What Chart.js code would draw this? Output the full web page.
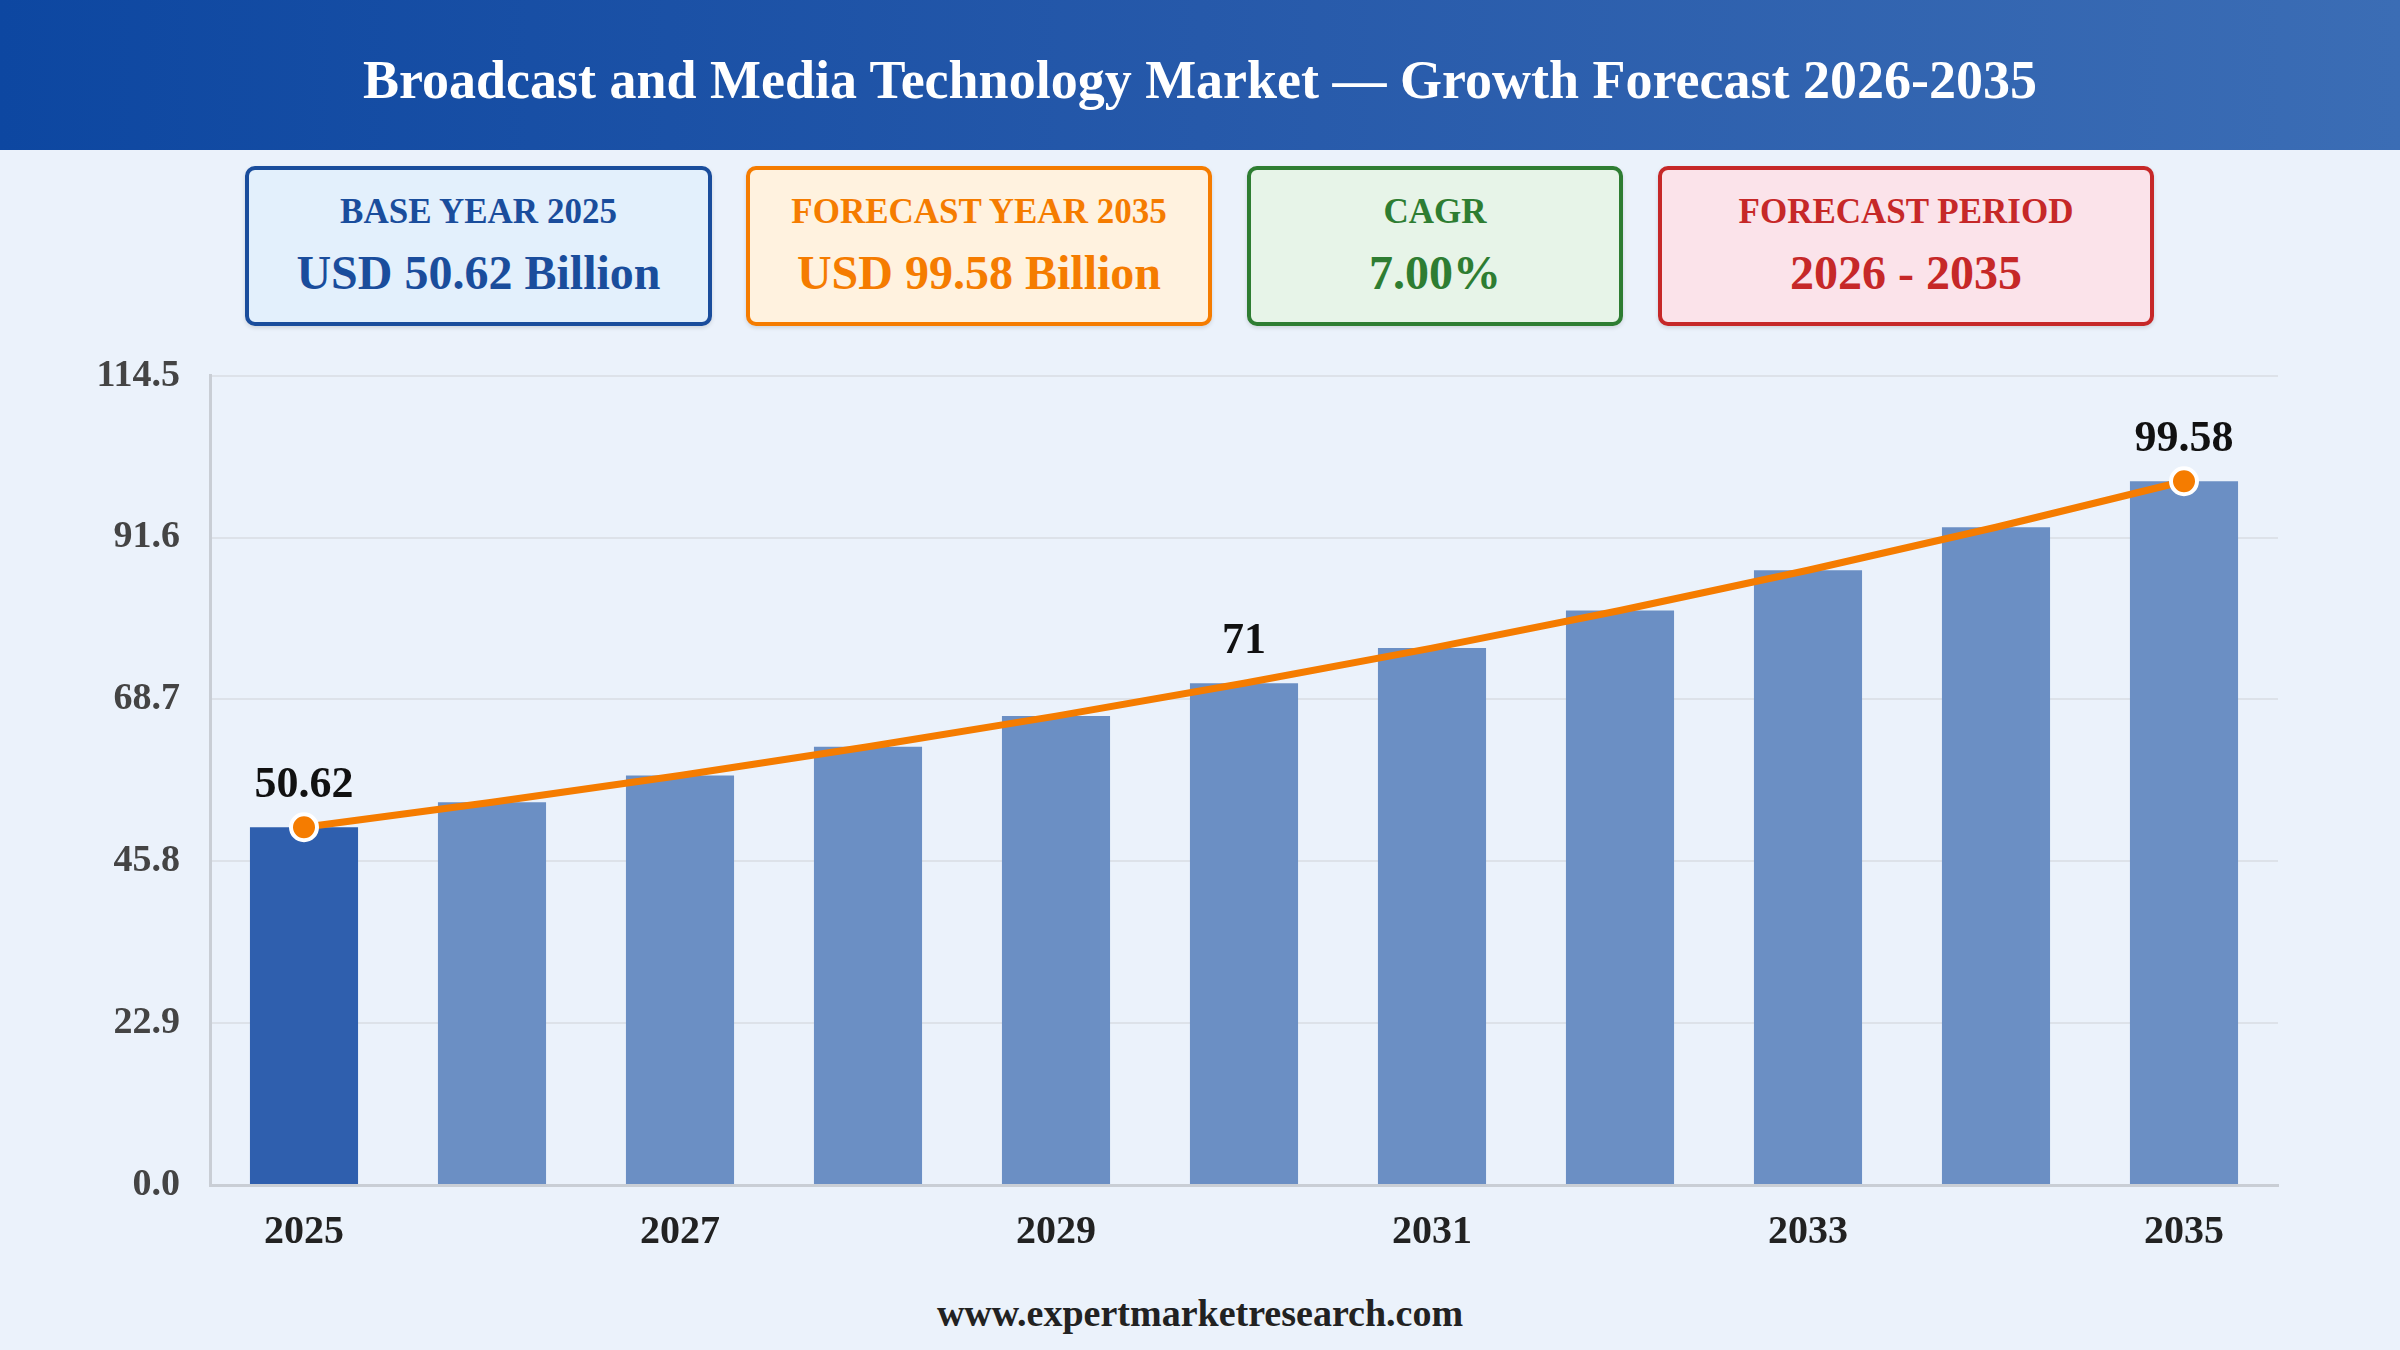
<!DOCTYPE html>
<html>
<head>
<meta charset="utf-8">
<title>Broadcast and Media Technology Market</title>
<script src="https://cdn.jsdelivr.net/npm/chart.js@4.4.1/dist/chart.umd.min.js"></script>
<style>
    html, body {
        margin: 0;
        padding: 0;
    }
    body {
        width: 2400px;
        height: 1350px;
        position: relative;
        overflow: hidden;
        background: #ebf2fb;
        font-family: "Liberation Serif", "Times New Roman", serif;
    }
    .header {
        position: absolute;
        left: 0;
        top: 0;
        width: 2400px;
        height: 150px;
        background: linear-gradient(90deg, #0d47a1 0%, #2659aa 50%, #3b6db5 100%);
        color: #fff;
        font-weight: bold;
        font-size: 54px;
        line-height: 160px;
        text-align: center;
    }
    .card {
        position: absolute;
        top: 166px;
        height: 160px;
        box-sizing: border-box;
        border: 4px solid;
        border-radius: 10px;
        text-align: center;
        font-weight: bold;
        box-shadow: 0 2px 4px rgba(0, 0, 0, 0.12);
    }
    .card .label {
        position: absolute;
        left: 0;
        right: 0;
        top: 22px;
        font-size: 35px;
        line-height: 40px;
    }
    .card .value {
        position: absolute;
        left: 0;
        right: 0;
        top: 75px;
        font-size: 48px;
        line-height: 56px;
    }
    .chart-box {
        position: absolute;
        left: 0;
        top: 323px;
        width: 2400px;
        height: 957px;
    }
    .footer {
        position: absolute;
        left: 0;
        width: 2400px;
        top: 1290px;
        text-align: center;
        font-weight: bold;
        font-size: 38px;
        line-height: 46px;
        color: #222;
    }
</style>
</head>
<body>
<div class="header">Broadcast and Media Technology Market — Growth Forecast 2026-2035</div>

<div class="card" style="left:245px;width:467px;border-color:#1a4d9c;background:#e3f0fc;color:#1a4d9c;">
    <div class="label">BASE YEAR 2025</div>
    <div class="value">USD 50.62 Billion</div>
</div>
<div class="card" style="left:746px;width:466px;border-color:#f57c00;background:#fff2df;color:#f57c00;">
    <div class="label">FORECAST YEAR 2035</div>
    <div class="value">USD 99.58 Billion</div>
</div>
<div class="card" style="left:1247px;width:376px;border-color:#2e7d32;background:#e7f4e8;color:#2e7d32;">
    <div class="label">CAGR</div>
    <div class="value">7.00%</div>
</div>
<div class="card" style="left:1658px;width:496px;border-color:#c62828;background:#fbe3ea;color:#c62828;">
    <div class="label">FORECAST PERIOD</div>
    <div class="value">2026 - 2035</div>
</div>

<div class="chart-box"><canvas id="market-chart"></canvas></div>

<div class="footer">www.expertmarketresearch.com</div>

<script>
// chart data
const years = ['2025', '2026', '2027', '2028', '2029', '2030', '2031', '2032', '2033', '2034', '2035'];
const marketSize = [50.62, 54.16, 57.95, 62.01, 66.35, 71.0, 75.97, 81.29, 86.98, 93.07, 99.58];
const yTicks = [0, 22.9, 45.8, 68.7, 91.6, 114.5];
const labelledIdx = [0, 5, 10];

const SERIF = '"Liberation Serif", "Times New Roman", serif';

const valueLabels = {
    id: 'valueLabels',
    afterDatasetsDraw(chart) {
        const meta = chart.getDatasetMeta(1);
        const ctx = chart.ctx;
        ctx.save();
        ctx.font = 'bold 44px ' + SERIF;
        ctx.fillStyle = '#111';
        ctx.textAlign = 'center';
        ctx.textBaseline = 'middle';
        labelledIdx.forEach(i => {
            const pt = meta.data[i];
            const txt = String(Number(marketSize[i].toFixed(2)));
            ctx.fillText(txt, pt.x, pt.y - 42);
        });
        ctx.restore();
    }
};

const ctx = document.getElementById('market-chart').getContext('2d');

new Chart(ctx, {
    type: 'bar',
    data: {
        labels: years,
        datasets: [
            {
                type: 'bar',
                label: 'Market Size',
                data: marketSize,
                backgroundColor: years.map((y, i) => i === 0 ? '#2f5fae' : '#6b8fc4'),
                barPercentage: 0.575,
                categoryPercentage: 1,
                order: 1
            },
            {
                type: 'line',
                label: 'Trend',
                data: marketSize,
                borderColor: '#f57c00',
                borderWidth: 7,
                tension: 0,
                pointRadius: years.map((y, i) => (i === 0 || i === years.length - 1) ? 13 : 0),
                pointBackgroundColor: '#f57c00',
                pointBorderColor: '#ffffff',
                pointBorderWidth: 4,
                order: 0
            }
        ]
    },
    options: {
        responsive: true,
        maintainAspectRatio: false,
        devicePixelRatio: 1,
        animation: false,
        layout: {
            padding: { top: 18, right: 122, left: 0, bottom: 0 }
        },
        scales: {
            x: {
                offset: true,
                grid: { color: 'transparent', drawTicks: false },
                border: { display: true, color: '#c9ced5', width: 3 },
                ticks: {
                    autoSkip: false,
                    maxRotation: 0,
                    padding: 24,
                    color: '#222',
                    font: { family: SERIF, size: 40, weight: 'bold' },
                    callback: (v, i) => i % 2 === 0 ? years[i] : ''
                },
                afterFit: scale => { scale.height = 95; }
            },
            y: {
                min: 0,
                max: 114.5,
                grid: { color: '#dde2e9', lineWidth: 2, drawTicks: false },
                border: { display: true, color: '#c9ced5', width: 3 },
                afterBuildTicks: scale => {
                    scale.ticks = yTicks.map(v => ({ value: v }));
                },
                ticks: {
                    padding: 30,
                    color: '#444',
                    font: { family: SERIF, size: 38, weight: 'bold' },
                    callback: v => Number(v).toFixed(1)
                },
                afterFit: scale => { scale.width = 210; }
            }
        },
        plugins: {
            legend: { display: false },
            tooltip: { enabled: false },
            title: { display: false }
        }
    },
    plugins: [valueLabels]
});
</script>
</body>
</html>
